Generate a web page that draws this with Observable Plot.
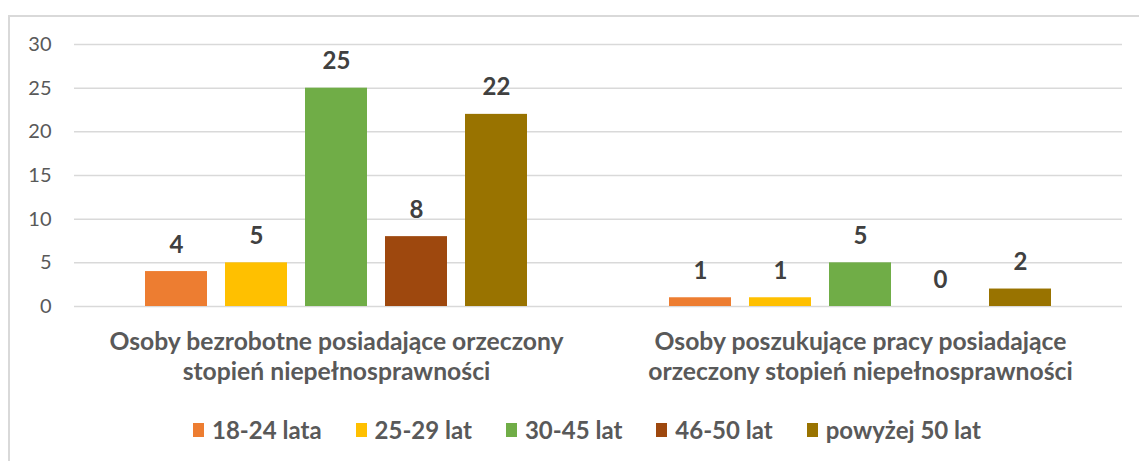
<!DOCTYPE html>
<html>
<head>
<meta charset="utf-8">
<script src="https://cdn.jsdelivr.net/npm/d3@7"></script>
<script src="https://cdn.jsdelivr.net/npm/@observablehq/plot@0.6"></script>
<style>
  html, body { margin: 0; padding: 0; background: #fff; }
  #wrap { position: relative; width: 1139px; height: 461px; overflow: hidden; font-family: Lato, "Open Sans", sans-serif; }
  #frame { position: absolute; left: 8px; top: 15px; width: 1200px; height: 500px; border-left: 2px solid #d9d9d9; border-top: 2px solid #d9d9d9; box-sizing: border-box; }
  #chart { position: absolute; left: 0; top: 0; }
  #legend { position: absolute; left: 0; width: 1174px; top: 415px; display: flex; justify-content: center; gap: 34px; font-weight: 700; font-size: 24px; color: #595959; }
  .item { display: flex; align-items: center; }
  .sw { width: 11px; height: 14px; margin-right: 8px; }
</style>
</head>
<body>
<div id="wrap">
  <div id="frame"></div>
  <div id="chart"></div>
  <div id="legend"></div>
</div>
<script>
const groups = [
  "Osoby bezrobotne posiadające orzeczony\nstopień niepełnosprawności",
  "Osoby poszukujące pracy posiadające\norzeczony stopień niepełnosprawności"
];
const series = ["18-24 lata", "25-29 lat", "30-45 lat", "46-50 lat", "powyżej 50 lat"];
const colors = ["#ED7D31", "#FFC000", "#70AD47", "#9E480E", "#997300"];
const valuesGroup1 = [4, 5, 25, 8, 22];
const valuesGroup2 = [1, 1, 5, 0, 2];
const yTicks = [0, 5, 10, 15, 20, 25, 30];

const data = [];
[valuesGroup1, valuesGroup2].forEach((vals, gi) => {
  vals.forEach((v, si) => data.push({group: groups[gi], series: series[si], value: v}));
});

const fontFamily = "Lato, 'Open Sans', sans-serif";

const chart = Plot.plot({
  width: 1139,
  height: 400,
  marginLeft: 73,
  marginRight: 17,
  marginTop: 44,
  marginBottom: 94,
  style: {fontFamily, background: "transparent", overflow: "visible"},
  fx: {domain: groups, padding: 0, axis: null},
  x: {domain: series, paddingInner: 0.22, paddingOuter: 0.86, axis: null},
  y: {domain: [0, 30], ticks: yTicks, axis: null},
  color: {domain: series, range: colors},
  marks: [
    Plot.ruleY(yTicks, {stroke: "#d9d9d9", strokeWidth: 1.5}),
    Plot.axisY({ticks: yTicks, tickSize: 0, tickPadding: 23, fontSize: 20, fill: "#595959", label: null, facetAnchor: "left"}),
    Plot.barY(data, {fx: "group", x: "series", y: "value", fill: "series"}),
    Plot.text(data, {fx: "group", x: "series", y: "value", text: d => String(d.value), lineAnchor: "bottom", dy: -19, fontSize: 24, fontWeight: 700, fill: "#404040"}),
    Plot.text(groups, {fx: d => d, text: d => d, frameAnchor: "bottom", lineAnchor: "top", dy: 22, fontSize: 24.7, fontWeight: 700, fill: "#595959", lineHeight: 1.22})
  ]
});
document.getElementById("chart").appendChild(chart);

const legend = document.getElementById("legend");
series.forEach((s, i) => {
  const item = document.createElement("div");
  item.className = "item";
  const sw = document.createElement("span");
  sw.className = "sw";
  sw.style.background = colors[i];
  const t = document.createElement("span");
  t.textContent = s;
  item.appendChild(sw);
  item.appendChild(t);
  legend.appendChild(item);
});
</script>
</body>
</html>
